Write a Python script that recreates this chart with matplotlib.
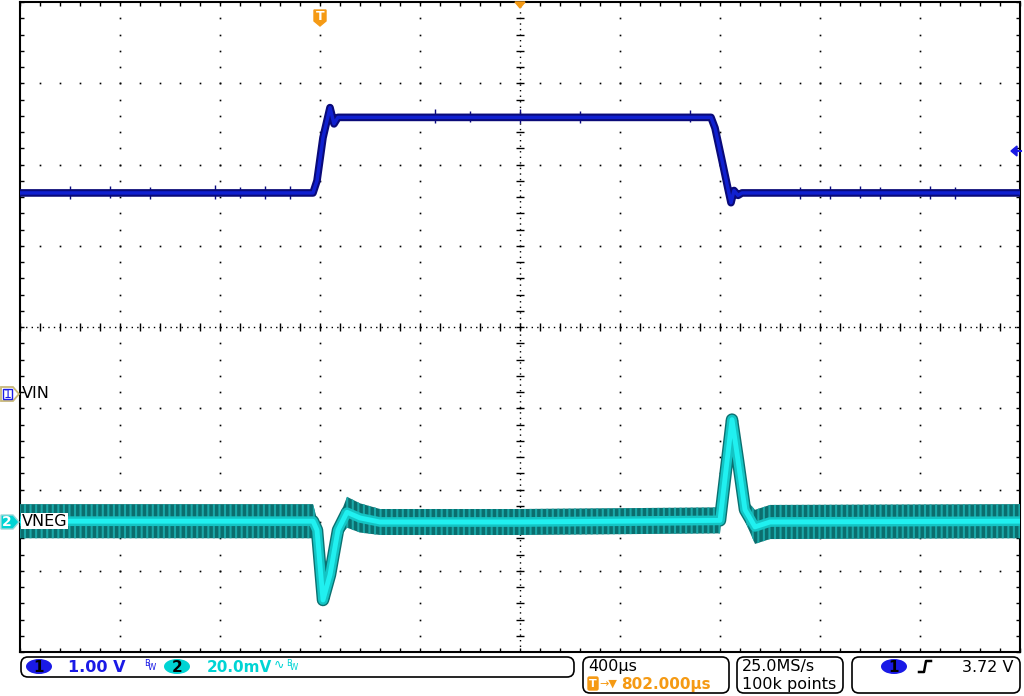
import matplotlib
matplotlib.use('Agg')
import numpy as np
import matplotlib.pyplot as plt
from matplotlib.patches import FancyBboxPatch, Polygon, Ellipse

W, H = 1024, 696

# screen is 10 x 8 divisions, values in divisions
# channel 1 (VIN), 1.00 V/div
vin_t = [-5.0, -2.07, -2.03, -1.97, -1.90, -1.86, -1.82, 1.91, 1.95, 2.02, 2.08, 2.11, 2.14, 2.18, 2.22, 5.0]
vin_v = [1.65, 1.65, 1.80, 2.33, 2.70, 2.50, 2.58, 2.58, 2.45, 2.05, 1.70, 1.53, 1.68, 1.62, 1.65, 1.65]

# spikes on the VIN trace (time, top, bottom)
vin_spike_t = [-4.5, -4.1, -3.7, -3.05, -2.8, -2.55, -2.3, -0.85, -0.5, 0.0, 0.6, 1.7, 2.8, 3.1, 3.4, 3.6, 4.1, 4.35]
vin_spike_hi = [1.73, 1.74, 1.72, 1.75, 1.72, 1.73, 1.74, 2.68, 2.66, 2.68, 2.66, 2.67, 1.72, 1.74, 1.73, 1.72, 1.73, 1.72]
vin_spike_lo = [1.58, 1.59, 1.58, 1.58, 1.59, 1.58, 1.58, 2.51, 2.52, 2.51, 2.51, 2.52, 1.58, 1.58, 1.59, 1.58, 1.58, 1.58]

# channel 2 (VNEG), 20.0 mV/div
vneg_t = [-5.0, -2.07, -2.03, -1.97, -1.90, -1.82, -1.73, -1.60, -1.40, 0.0, 2.00, 2.06, 2.12, 2.18, 2.25, 2.35, 2.50, 5.0]
vneg_v = [-2.39, -2.39, -2.50, -3.36, -3.05, -2.50, -2.28, -2.35, -2.40, -2.40, -2.38, -1.76, -1.14, -1.64, -2.25, -2.46, -2.40, -2.39]
vneg_spread = [0.21, 0.21, 0.14, 0.08, 0.08, 0.12, 0.19, 0.18, 0.16, 0.16, 0.16, 0.08, 0.08, 0.08, 0.14, 0.21, 0.21, 0.21]

fig = plt.figure(figsize=(W / 100, H / 100), dpi=100)
fig.patch.set_facecolor('white')

ax = fig.add_axes([20 / W, 1 - 652 / H, 1000 / W, 650 / H])
ax.set_xlim(-5, 5)
ax.set_ylim(-4, 4)
for s in ax.spines.values():
    s.set_linewidth(1.5)
    s.set_color('black')
minor_x = np.arange(-5, 5.001, 0.2)
minor_y = np.arange(-4, 4.001, 0.2)
ax.set_xticks(minor_x)
ax.set_yticks(minor_y)
ax.tick_params(direction='in', length=3, width=1, top=True, right=True,
               labelbottom=False, labelleft=False)

# dotted graticule
for gx in range(-4, 5):
    if gx != 0:
        ax.plot(np.full_like(minor_y, gx), minor_y, 's', color='black', ms=1.2, mew=0, zorder=1)
for gy in range(-3, 4):
    if gy != 0:
        ax.plot(minor_x, np.full_like(minor_x, gy), 's', color='black', ms=1.2, mew=0, zorder=1)
ax.axhline(0, color='black', lw=1, ls=(0, (1, 3)), zorder=1)
ax.axvline(0, color='black', lw=1, ls=(0, (1, 3)), zorder=1)
ax.plot(minor_x, np.zeros_like(minor_x), '|', color='black', ms=6, mew=1, zorder=1)
ax.plot(np.zeros_like(minor_y), minor_y, '_', color='black', ms=6, mew=1, zorder=1)

# VIN trace
ax.vlines(vin_spike_t, vin_spike_lo, vin_spike_hi, color='#0a0a80', lw=1, zorder=3)
ax.plot(vin_t, vin_v, color='#0a0a78', lw=5.5, solid_joinstyle='round', solid_capstyle='butt', zorder=4)
ax.plot(vin_t, vin_v, color='#1020d0', lw=2.5, solid_joinstyle='round', zorder=5)

# VNEG trace
plt.rcParams['hatch.linewidth'] = 1.5
upper = np.array(vneg_v) + np.array(vneg_spread)
lower = np.array(vneg_v) - np.array(vneg_spread)
ax.plot(vneg_t, vneg_v, color='#0b7070', lw=9, solid_joinstyle='round', zorder=3)
ax.fill_between(vneg_t, lower, upper, facecolor='#0b6e6e', edgecolor='#1aa8a8',
                hatch='|||', lw=0, zorder=3)
ax.plot(vneg_t, vneg_v, color='#14c4c4', lw=7, solid_joinstyle='round', zorder=4)
ax.plot(vneg_t, vneg_v, color='#20f0f0', lw=3.5, solid_joinstyle='round', zorder=5)

# overlay in pixel coordinates for scope decorations
ov = fig.add_axes([0, 0, 1, 1], zorder=10)
ov.set_xlim(0, W)
ov.set_ylim(H, 0)
ov.axis('off')
ov.patch.set_alpha(0)

blue = '#1a1ae6'
cyan = '#00d4d4'
orange = '#f59a14'

# channel reference markers
ov.add_patch(Polygon([[1, 387], [13, 387], [19, 394], [13, 401], [1, 401]], closed=True,
                     facecolor='white', edgecolor='#c8b878', lw=1.3))
ov.add_patch(Polygon([[3, 389], [12, 389], [12, 399], [3, 399]], closed=True,
                     facecolor='white', edgecolor=blue, lw=1))
ov.text(7.5, 394.5, '1', color=blue, fontsize=9, ha='center', va='center')
ov.text(22, 394, 'VIN', color='black', fontsize=11.5, ha='left', va='center')
ov.add_patch(Polygon([[1, 515], [13, 515], [19, 522], [13, 529], [1, 529]], closed=True,
                     facecolor=cyan, edgecolor='#9ad8d8', lw=1))
ov.text(7, 522.5, '2', color='white', fontsize=10, fontweight='bold', ha='center', va='center')
ov.text(22, 521, 'VNEG', color='black', fontsize=11.5, ha='left', va='center',
        bbox=dict(boxstyle='square,pad=0.05', fc='white', ec='none'))

# trigger markers
ov.add_patch(Polygon([[314, 10], [326, 10], [326, 21], [320, 26], [314, 21]], closed=True,
                     fc=orange, ec=orange))
ov.text(320, 16.5, 'T', color='white', fontsize=9, fontweight='bold', ha='center', va='center')
ov.add_patch(Polygon([[515, 2], [525, 2], [520, 8]], closed=True, fc=orange, ec=orange))
ov.add_patch(Polygon([[1011, 151], [1017, 146], [1017, 156]], closed=True, fc=blue, ec=blue))
ov.plot([1015, 1021], [151, 151], color=blue, lw=1.5)

# status bar boxes
for x0, y0, x1, y1 in [(21, 657, 574, 677), (583, 657, 729, 693), (737, 657, 843, 693), (852, 657, 1020, 693)]:
    ov.add_patch(FancyBboxPatch((x0, y0), x1 - x0, y1 - y0, boxstyle='round,pad=0,rounding_size=7',
                                fc='white', ec='black', lw=1.2))

ov.add_patch(Ellipse((39, 666.5), 26, 15, fc=blue, ec='none'))
ov.text(39, 667, '1', color='black', fontsize=11, fontweight='bold', ha='center', va='center')
ov.text(68, 667, '1.00 V', color=blue, fontsize=11.5, fontweight='bold', ha='left', va='center')
ov.text(144, 663, 'B', color=blue, fontsize=6, ha='left', va='center')
ov.text(148, 668, 'W', color=blue, fontsize=6, ha='left', va='center')
ov.add_patch(Ellipse((177, 666.5), 26, 15, fc=cyan, ec='none'))
ov.text(177, 667, '2', color='black', fontsize=11, fontweight='bold', ha='center', va='center')
ov.text(207, 667, '20.0mV', color=cyan, fontsize=11, fontweight='bold', ha='left', va='center')
ov.text(274, 665, '\u223f', color=cyan, fontsize=9, ha='left', va='center')
ov.text(286, 663, 'B', color=cyan, fontsize=6, ha='left', va='center')
ov.text(290, 668, 'W', color=cyan, fontsize=6, ha='left', va='center')

ov.text(588, 666, '400\u00b5s', color='black', fontsize=11.5, ha='left', va='center')
ov.add_patch(FancyBboxPatch((588, 677), 10, 13, boxstyle='round,pad=0,rounding_size=1.5',
                            fc=orange, ec=orange))
ov.text(593, 684, 'T', color='white', fontsize=8, fontweight='bold', ha='center', va='center')
ov.text(599, 684, '\u2192\u25bc', color=orange, fontsize=8, ha='left', va='center')
ov.text(621, 684, '802.000\u00b5s', color=orange, fontsize=11, fontweight='bold', ha='left', va='center')

ov.text(742, 666, '25.0MS/s', color='black', fontsize=11.5, ha='left', va='center')
ov.text(742, 684, '100k points', color='black', fontsize=11.5, ha='left', va='center')

ov.add_patch(Ellipse((894, 666.5), 26, 15, fc=blue, ec='none'))
ov.text(894, 667, '1', color='black', fontsize=11, fontweight='bold', ha='center', va='center')
ov.plot([919, 924, 926, 931], [672, 672, 661, 661], color='black', lw=1.8)
ov.text(1014, 667, '3.72 V', color='black', fontsize=11.5, ha='right', va='center')

fig.savefig('out.png', dpi=100)
